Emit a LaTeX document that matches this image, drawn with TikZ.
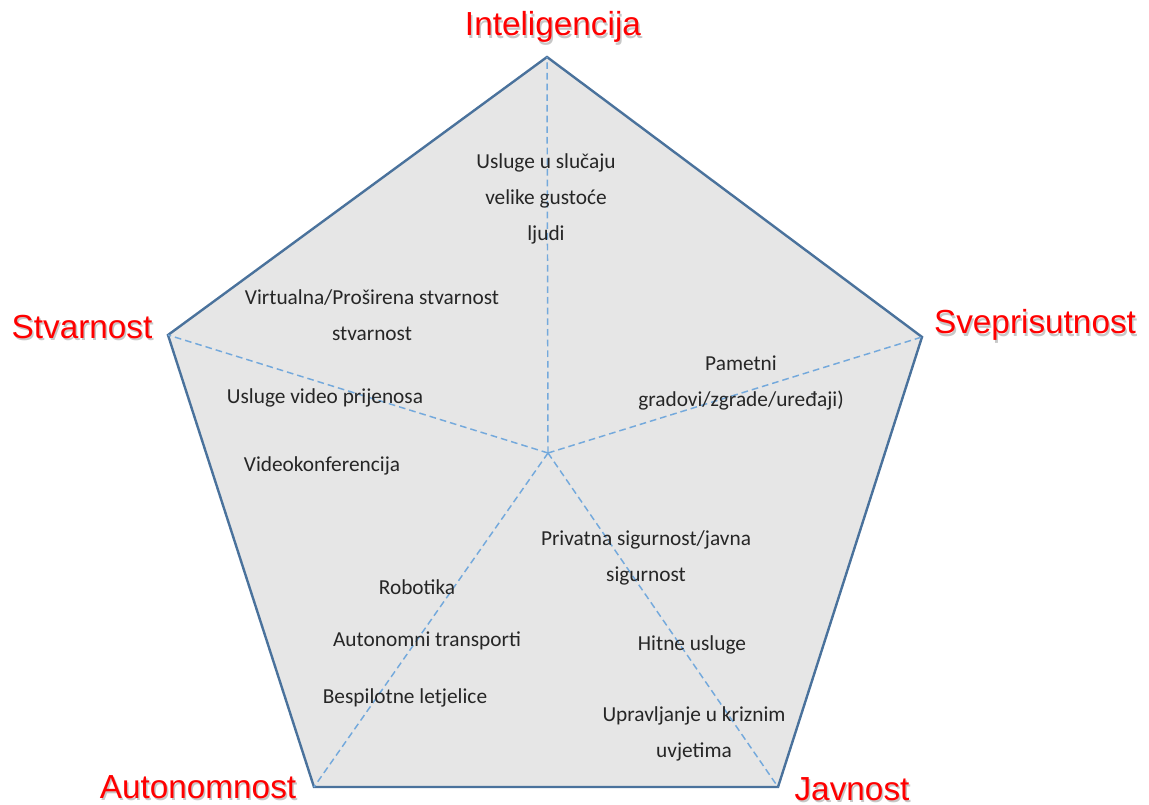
\documentclass[tikz,border=0pt]{standalone}
\usepackage{fontspec}
\setmainfont{Carlito}
\newfontfamily\labfont{Liberation Sans}
\definecolor{penfill}{HTML}{E6E6E6}
\definecolor{penline}{HTML}{4A729C}
\definecolor{spoke}{HTML}{74A9DC}
\definecolor{labred}{HTML}{FF0000}
\begin{document}
\begin{tikzpicture}[x=0.75pt,y=-0.75pt,
  item/.style={font=\fontsize{16}{27}\selectfont, align=center, text=black!85, inner sep=0pt},
  vlabel/.style={font=\labfont\fontsize{25}{30}\selectfont, text=labred, inner sep=0pt},
  vshadow/.style={font=\labfont\fontsize{25}{30}\selectfont, text=black!22, inner sep=0pt},
  spokeline/.style={draw=spoke, line width=1.1pt, dash pattern=on 5pt off 3pt},
  rim/.style={draw=penline, line width=1.8pt, fill=penfill, line join=miter}]
\useasboundingbox (0,0) rectangle (1149,805);
\coordinate (T) at (547,57);
\coordinate (R) at (922,337);
\coordinate (BR) at (778,787);
\coordinate (BL) at (314,787);
\coordinate (L) at (168,335);
\coordinate (C) at (548,453);
\path[rim] (T) -- (R) -- (BR) -- (BL) -- (L) -- cycle;
\foreach \v in {T,R,BR,BL,L} \draw[spokeline] (C) -- (\v);
% vertex labels with soft shadow
\foreach \n/\x/\y/\t in {li/553/27/Inteligencija, ls/82/327/Stvarnost, lv/1035/325/Sveprisutnost, la/198/787/Autonomnost, lj/852/789/Javnost}{
  \node[vshadow] at (\x+1.5,\y+2.5) {\t};
  \node[vlabel] (\n) at (\x,\y) {\t};
}
\node[item] (a1) at (546,199) {Usluge u slučaju\\velike gustoće\\ljudi};
\node[item] (a2) at (372,315) {Virtualna/Proširena stvarnost\\stvarnost};
\node[item] (a3) at (325,398) {Usluge video prijenosa};
\node[item] (a4) at (322,466) {Videokonferencija};
\node[item] (a5) at (741,383) {Pametni\\gradovi/zgrade/uređaji)};
\node[item] (a6) at (646,558) {Privatna sigurnost/javna\\sigurnost};
\node[item] (a7) at (692,645) {Hitne usluge};
\node[item] (a8) at (694,734) {Upravljanje u kriznim\\uvjetima};
\node[item] (a9) at (417,587) {Robotika};
\node[item] (a10) at (427,641) {Autonomni transporti};
\node[item] (a11) at (405,698) {Bespilotne letjelice};
\end{tikzpicture}
\end{document}
